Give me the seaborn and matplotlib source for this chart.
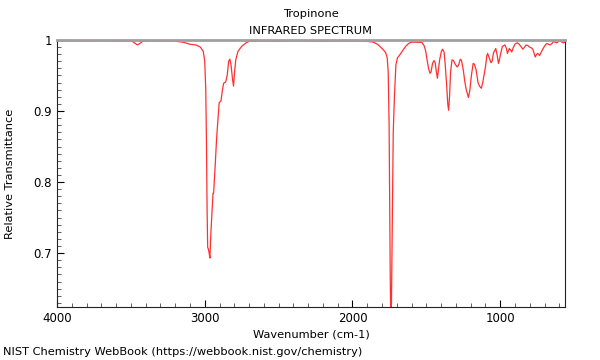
import matplotlib
matplotlib.use("Agg")
import matplotlib.pyplot as plt
from matplotlib.ticker import MultipleLocator, FuncFormatter
import seaborn as sns
import pandas as pd

title = "Tropinone"
subtitle = "INFRARED SPECTRUM"
x_label = "Wavenumber (cm-1)"
y_label = "Relative Transmittance"
footer = "NIST Chemistry WebBook (https://webbook.nist.gov/chemistry)"

wavenumber = [
    4000, 3900, 3800, 3700, 3600, 3520, 3490, 3470, 3455, 3440, 3420, 3380, 3300, 3200,
    3150, 3100, 3060, 3030, 3010, 3000, 2993, 2988, 2984, 2980, 2976, 2970, 2965, 2958,
    2950, 2944, 2940, 2930, 2920, 2910, 2902, 2890, 2880, 2872, 2858, 2848, 2838, 2830,
    2822, 2812, 2805, 2798, 2790, 2775, 2750, 2720, 2700, 2600, 2500, 2400, 2300, 2200,
    2100, 2000, 1950, 1900, 1860, 1830, 1810, 1790, 1775, 1765, 1758, 1752, 1748, 1744,
    1740, 1736, 1730, 1724, 1716, 1706, 1695, 1680, 1660, 1640, 1620, 1600, 1560, 1530,
    1515, 1505, 1495, 1485, 1475, 1468, 1458, 1448, 1440, 1432, 1425, 1418, 1410, 1398,
    1390, 1380, 1372, 1362, 1355, 1349, 1343, 1336, 1326, 1316, 1305, 1292, 1283, 1270,
    1262, 1250, 1240, 1230, 1215, 1205, 1195, 1183, 1175, 1163, 1150, 1140, 1128, 1118,
    1110, 1100, 1090, 1085, 1073, 1062, 1055, 1045, 1030, 1020, 1012, 1005, 998, 985,
    968, 958, 951, 945, 938, 930, 922, 912, 899, 884, 872, 860, 847, 835, 825, 812,
    802, 790, 779, 770, 763, 755, 748, 740, 734, 722, 712, 698, 685, 672, 662, 650,
    640, 628, 617, 605, 595, 583, 572, 562,
]
transmittance = [
    0.9985, 0.9988, 0.9985, 0.9988, 0.9986, 0.9986, 0.998, 0.995, 0.993, 0.995, 0.998, 0.9988, 0.9985, 0.9982,
    0.997, 0.994, 0.993, 0.990, 0.984, 0.970, 0.93, 0.85, 0.76, 0.708, 0.706, 0.70, 0.693, 0.73,
    0.76, 0.784, 0.784, 0.82, 0.86, 0.89, 0.912, 0.914, 0.93, 0.939, 0.941, 0.95, 0.97, 0.973,
    0.965, 0.945, 0.935, 0.955, 0.972, 0.984, 0.991, 0.996, 0.998, 0.9985, 0.998, 0.9988, 0.9985, 0.998,
    0.9985, 0.9982, 0.9985, 0.998, 0.997, 0.994, 0.990, 0.986, 0.982, 0.975, 0.955, 0.88, 0.78, 0.66,
    0.60, 0.63, 0.75, 0.87, 0.92, 0.965, 0.975, 0.979, 0.985, 0.991, 0.995, 0.997, 0.9968, 0.9965,
    0.992, 0.985, 0.972, 0.96, 0.953, 0.955, 0.967, 0.971, 0.968, 0.955, 0.946, 0.958, 0.972, 0.984,
    0.987, 0.983, 0.965, 0.935, 0.91, 0.901, 0.92, 0.955, 0.972, 0.971, 0.966, 0.962, 0.964, 0.973,
    0.971, 0.958, 0.942, 0.93, 0.919, 0.93, 0.95, 0.967, 0.966, 0.958, 0.94, 0.935, 0.932, 0.94,
    0.95, 0.962, 0.978, 0.981, 0.974, 0.968, 0.970, 0.982, 0.988, 0.978, 0.967, 0.972, 0.980, 0.991,
    0.993, 0.988, 0.981, 0.984, 0.988, 0.986, 0.983, 0.989, 0.9944, 0.996, 0.994, 0.991, 0.987, 0.990, 0.993, 0.992,
    0.990, 0.989, 0.987, 0.981, 0.976, 0.979, 0.981, 0.980, 0.978, 0.983, 0.987, 0.992, 0.995, 0.994, 0.993, 0.995,
    0.9977, 0.997, 0.996, 0.998, 0.9986, 0.997, 0.996, 0.997,
]

df = pd.DataFrame({"wavenumber": wavenumber, "transmittance": transmittance})

sns.set_style("ticks")
plt.rcParams["font.family"] = ["DejaVu Sans"]
plt.rcParams["text.color"] = "black"
plt.rcParams["axes.labelcolor"] = "black"

fig = plt.figure(figsize=(6, 3.6), dpi=100)
ax = fig.add_axes([0.095, 0.147, 0.847, 0.742])

sns.lineplot(data=df, x="wavenumber", y="transmittance", ax=ax, color="#ff3030",
             linewidth=0.9, estimator=None, sort=True)

ax.set_xlim(4000, 560)
ax.set_ylim(0.624, 1.0)

ax.xaxis.set_major_locator(MultipleLocator(1000))
ax.xaxis.set_minor_locator(MultipleLocator(100))
ax.yaxis.set_major_locator(MultipleLocator(0.1))
ax.yaxis.set_minor_locator(MultipleLocator(0.01))
ax.yaxis.set_major_formatter(FuncFormatter(lambda v, p: f"{v:g}"))
ax.tick_params(which="major", direction="in", length=5, width=0.8, labelsize=8.5,
               colors="black", labelcolor="black")
ax.tick_params(which="minor", direction="in", length=3, width=0.6, colors="#444444")

for s in ["left", "bottom", "right"]:
    ax.spines[s].set_color("#222222")
    ax.spines[s].set_linewidth(0.8)
ax.spines["top"].set_color("#a0a0a0")
ax.spines["top"].set_linewidth(2.0)

ax.set_xlabel(x_label, fontsize=8.2, color="black")
ax.set_ylabel(y_label, fontsize=8.2, color="black")
ax.xaxis.set_label_coords(0.5, -0.085)
ax.yaxis.set_label_coords(-0.082, 0.5)

fig.text(0.518, 0.962, title, ha="center", va="center", fontsize=8.2, color="black")
fig.text(0.518, 0.915, subtitle, ha="center", va="center", fontsize=8.2, color="black")
fig.text(0.005, 0.022, footer, ha="left", va="center", fontsize=8.2, color="black")

fig.savefig("out.png", dpi=100)
